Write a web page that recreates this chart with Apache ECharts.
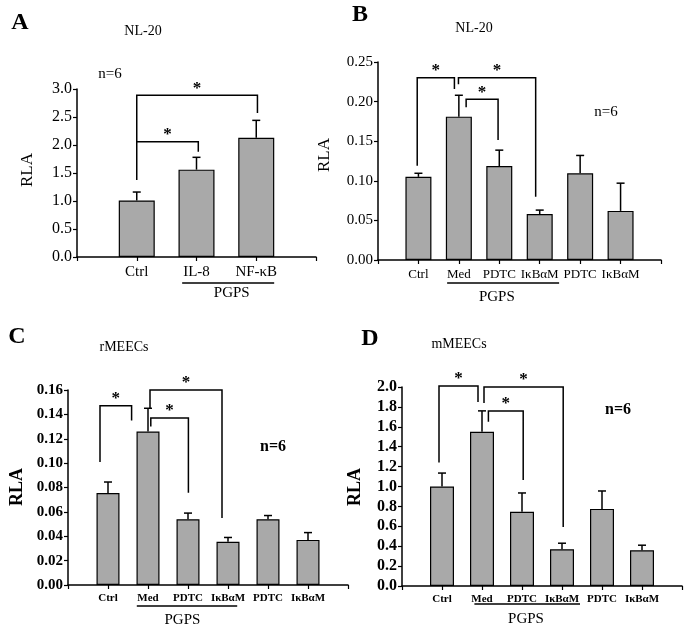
<!DOCTYPE html>
<html>
<head>
<meta charset="utf-8">
<script src="https://cdn.jsdelivr.net/npm/echarts@6/dist/echarts.min.js"></script>
<style>
  html, body { margin: 0; padding: 0; background: #fff; }
  #chart { width: 695px; height: 633px; }
</style>
</head>
<body>
<div id="chart"></div>
<script>
// Panel A - NL-20
const catsA = ["", "Ctrl", "IL-8", "NF-κB", ""];
const meanA = [null, 1.01, 1.56, 2.13, null];
const errA = [null, 0.15, 0.22, 0.31, null];
const yTicksA = [0, 0.5, 1.0, 1.5, 2.0, 2.5, 3.0];
// [xFrom, xTo, top, leftEnd, rightEnd]
const bracketsA = [[1.0, 2.03, 2.06, 1.375, 1.88], [1.0, 3.02, 2.89, 2.06, 2.57]];
const groupA = [1.76, 3.3, 2.59];

// Panel B - NL-20
const catsB = ["", "Ctrl", "Med", "PDTC", "IκBαM", "PDTC", "IκBαM", ""];
const meanB = [null, 0.105, 0.181, 0.1187, 0.058, 0.1095, 0.062, null];
const errB = [null, 0.0045, 0.027, 0.020, 0.005, 0.0225, 0.035, null];
const yTicksB = [0, 0.05, 0.10, 0.15, 0.20, 0.25];
const bracketsB = [[0.97, 1.89, 0.230, 0.119, 0.216], [1.99, 3.90, 0.230, 0.222, 0.080], [2.18, 2.97, 0.203, 0.193, 0.1515]];
const groupB = [1.71, 4.48, 2.94];

// Panel C - rMEECs
const catsC = ["", "Ctrl", "Med", "PDTC", "IκBαM", "PDTC", "IκBαM", ""];
const meanC = [null, 0.0755, 0.126, 0.054, 0.0355, 0.054, 0.037, null];
const errC = [null, 0.009, 0.019, 0.005, 0.0035, 0.003, 0.006, null];
const yTicksC = [0, 0.02, 0.04, 0.06, 0.08, 0.10, 0.12, 0.14, 0.16];
const bracketsC = [[0.8, 1.59, 0.147, 0.101, 0.135], [2.05, 3.85, 0.160, 0.145, 0.055], [2.07, 3.01, 0.137, 0.130, 0.0757]];
const groupC = [1.72, 4.23, 2.86];

// Panel D - mMEECs
const catsD = ["", "Ctrl", "Med", "PDTC", "IκBαM", "PDTC", "IκBαM", ""];
const meanD = [null, 1.0, 1.55, 0.745, 0.37, 0.775, 0.36, null];
const errD = [null, 0.135, 0.21, 0.19, 0.06, 0.18, 0.05, null];
const yTicksD = [0, 0.2, 0.4, 0.6, 0.8, 1.0, 1.2, 1.4, 1.6, 1.8, 2.0];
const bracketsD = [[0.925, 1.9, 2.01, 1.24, 1.85], [2.05, 4.03, 2.0, 1.84, 0.593], [2.16, 3.03, 1.76, 1.65, 1.065]];
const groupD = [1.81, 4.45, 3.1];

const FONT = '"Liberation Serif", "Times New Roman", serif';
const BAR_COLOR = "#a9a9a9";

const panels = [
  {
    grid: { left: 77, top: 89, width: 239, height: 168 },
    cats: catsA, mean: meanA, err: errA, yTicks: yTicksA, digits: 1,
    brackets: bracketsA, group: groupA, barWidth: 36,
    xFont: 15, xBold: "normal", yFont: 16, yBold: "normal", lineGap: 26, pgpsGap: 36,
  },
  {
    grid: { left: 378, top: 62, width: 283, height: 198 },
    cats: catsB, mean: meanB, err: errB, yTicks: yTicksB, digits: 2,
    brackets: bracketsB, group: groupB, barWidth: 26,
    xFont: 13, xBold: "normal", yFont: 15, yBold: "normal", lineGap: 23, pgpsGap: 37,
  },
  {
    grid: { left: 68, top: 390, width: 280, height: 195 },
    cats: catsC, mean: meanC, err: errC, yTicks: yTicksC, digits: 2,
    brackets: bracketsC, group: groupC, barWidth: 23,
    xFont: 11, xBold: "bold", yFont: 15, yBold: "bold", lineGap: 21, pgpsGap: 35,
  },
  {
    grid: { left: 402, top: 387, width: 280, height: 199 },
    cats: catsD, mean: meanD, err: errD, yTicks: yTicksD, digits: 1,
    brackets: bracketsD, group: groupD, barWidth: 24,
    xFont: 11, xBold: "bold", yFont: 16, yBold: "bold", lineGap: 18, pgpsGap: 33,
  },
];

const grids = [];
const xAxes = [];
const yAxes = [];
const series = [];

panels.forEach((p, i) => {
  grids.push(p.grid);
  const last = p.cats.length - 1;
  xAxes.push({
    type: "category",
    gridIndex: i,
    data: p.cats,
    boundaryGap: false,
    axisLine: { lineStyle: { color: "#000", width: 1.5 } },
    axisTick: { show: true, length: 4, lineStyle: { color: "#000", width: 1.2 } },
    axisLabel: {
      interval: 0, margin: 8, color: "#000",
      fontFamily: FONT, fontSize: p.xFont, fontWeight: p.xBold,
    },
    splitLine: { show: false },
  });
  xAxes.push({ type: "value", gridIndex: i, min: 0, max: last, show: false });

  const step = p.yTicks[1] - p.yTicks[0];
  yAxes.push({
    type: "value",
    gridIndex: i,
    min: p.yTicks[0],
    max: p.yTicks[p.yTicks.length - 1],
    interval: step,
    axisLine: { show: true, lineStyle: { color: "#000", width: 1.5 } },
    axisTick: { show: true, length: 4, lineStyle: { color: "#000", width: 1.2 } },
    axisLabel: {
      margin: 5, color: "#000", fontFamily: FONT,
      fontSize: p.yFont, fontWeight: p.yBold,
      formatter: (v) => v.toFixed(p.digits),
    },
    splitLine: { show: false },
  });

  series.push({
    type: "bar",
    xAxisIndex: 2 * i,
    yAxisIndex: i,
    barWidth: p.barWidth,
    data: p.mean.map((v) => (v == null ? "-" : v)),
    itemStyle: { color: BAR_COLOR, borderColor: "#000", borderWidth: 1.2 },
    silent: true,
    z: 2,
  });

  const errData = [];
  p.mean.forEach((v, k) => {
    if (v != null) errData.push([k, v, p.err[k]]);
  });
  series.push({
    type: "custom",
    xAxisIndex: 2 * i,
    yAxisIndex: i,
    encode: { x: 0, y: [1, 2] },
    data: errData,
    z: 3,
    renderItem: (params, api) => {
      const base = api.coord([api.value(0), api.value(1)]);
      const top = api.coord([api.value(0), api.value(1) + api.value(2)]);
      const style = { stroke: "#000", lineWidth: 1.5 };
      return {
        type: "group",
        children: [
          { type: "line", shape: { x1: base[0], y1: base[1], x2: top[0], y2: top[1] }, style },
          { type: "line", shape: { x1: top[0] - 4, y1: top[1], x2: top[0] + 4, y2: top[1] }, style },
        ],
      };
    },
  });

  // significance brackets
  series.push({
    type: "custom",
    xAxisIndex: 2 * i + 1,
    yAxisIndex: i,
    encode: { x: [0, 1], y: [2, 3, 4] },
    data: p.brackets,
    z: 4,
    renderItem: (params, api) => {
      const a = api.coord([api.value(0), api.value(3)]);
      const b = api.coord([api.value(0), api.value(2)]);
      const c = api.coord([api.value(1), api.value(2)]);
      const d = api.coord([api.value(1), api.value(4)]);
      return {
        type: "group",
        children: [
          {
            type: "polyline",
            shape: { points: [a, b, c, d] },
            style: { stroke: "#000", lineWidth: 1.5, fill: null },
          },
          {
            type: "text",
            x: (b[0] + c[0]) / 2,
            y: b[1] - 7,
            style: {
              text: "*", font: "bold 17px " + FONT, fill: "#000",
              align: "center", verticalAlign: "middle",
            },
          },
        ],
      };
    },
  });

  // PGPS group underline
  series.push({
    type: "custom",
    xAxisIndex: 2 * i + 1,
    yAxisIndex: i,
    encode: { x: [0, 1, 2], y: 3 },
    data: [[p.group[0], p.group[1], p.group[2], 0]],
    z: 4,
    renderItem: (params, api) => {
      const s = api.coord([api.value(0), api.value(3)]);
      const e = api.coord([api.value(1), api.value(3)]);
      const m = api.coord([api.value(2), api.value(3)]);
      return {
        type: "group",
        children: [
          {
            type: "line",
            shape: { x1: s[0], y1: s[1] + p.lineGap, x2: e[0], y2: e[1] + p.lineGap },
            style: { stroke: "#000", lineWidth: 1.3 },
          },
          {
            type: "text",
            x: m[0],
            y: m[1] + p.pgpsGap,
            style: {
              text: "PGPS", font: "15px " + FONT, fill: "#000",
              align: "center", verticalAlign: "middle",
            },
          },
        ],
      };
    },
  });
});

function label(text, x, y, size, weight, rotation) {
  return {
    type: "text",
    x, y,
    rotation: rotation || 0,
    style: {
      text, font: `${weight} ${size}px ${FONT}`, fill: "#000",
      align: "center", verticalAlign: "middle",
    },
  };
}

const graphic = [
  label("A", 20, 23, 24, "bold"),
  label("NL-20", 143, 31, 14, "normal"),
  label("n=6", 110, 74, 15, "normal"),
  label("RLA", 28, 170, 17, "normal", Math.PI / 2),

  label("B", 360, 15, 24, "bold"),
  label("NL-20", 474, 28, 14, "normal"),
  label("n=6", 606, 112, 15, "normal"),
  label("RLA", 325, 155, 17, "normal", Math.PI / 2),

  label("C", 17, 337, 24, "bold"),
  label("rMEECs", 124, 347, 14, "normal"),
  label("n=6", 273, 447, 16, "bold"),
  label("RLA", 17, 487, 18, "bold", Math.PI / 2),

  label("D", 370, 339, 24, "bold"),
  label("mMEECs", 459, 344, 14, "normal"),
  label("n=6", 618, 410, 16, "bold"),
  label("RLA", 355, 487, 18, "bold", Math.PI / 2),
];

const chart = echarts.init(document.getElementById("chart"), null, { renderer: "canvas" });
chart.setOption({
  backgroundColor: "#fff",
  animation: false,
  textStyle: { fontFamily: FONT },
  grid: grids,
  xAxis: xAxes,
  yAxis: yAxes,
  series,
  graphic,
});
</script>
</body>
</html>
